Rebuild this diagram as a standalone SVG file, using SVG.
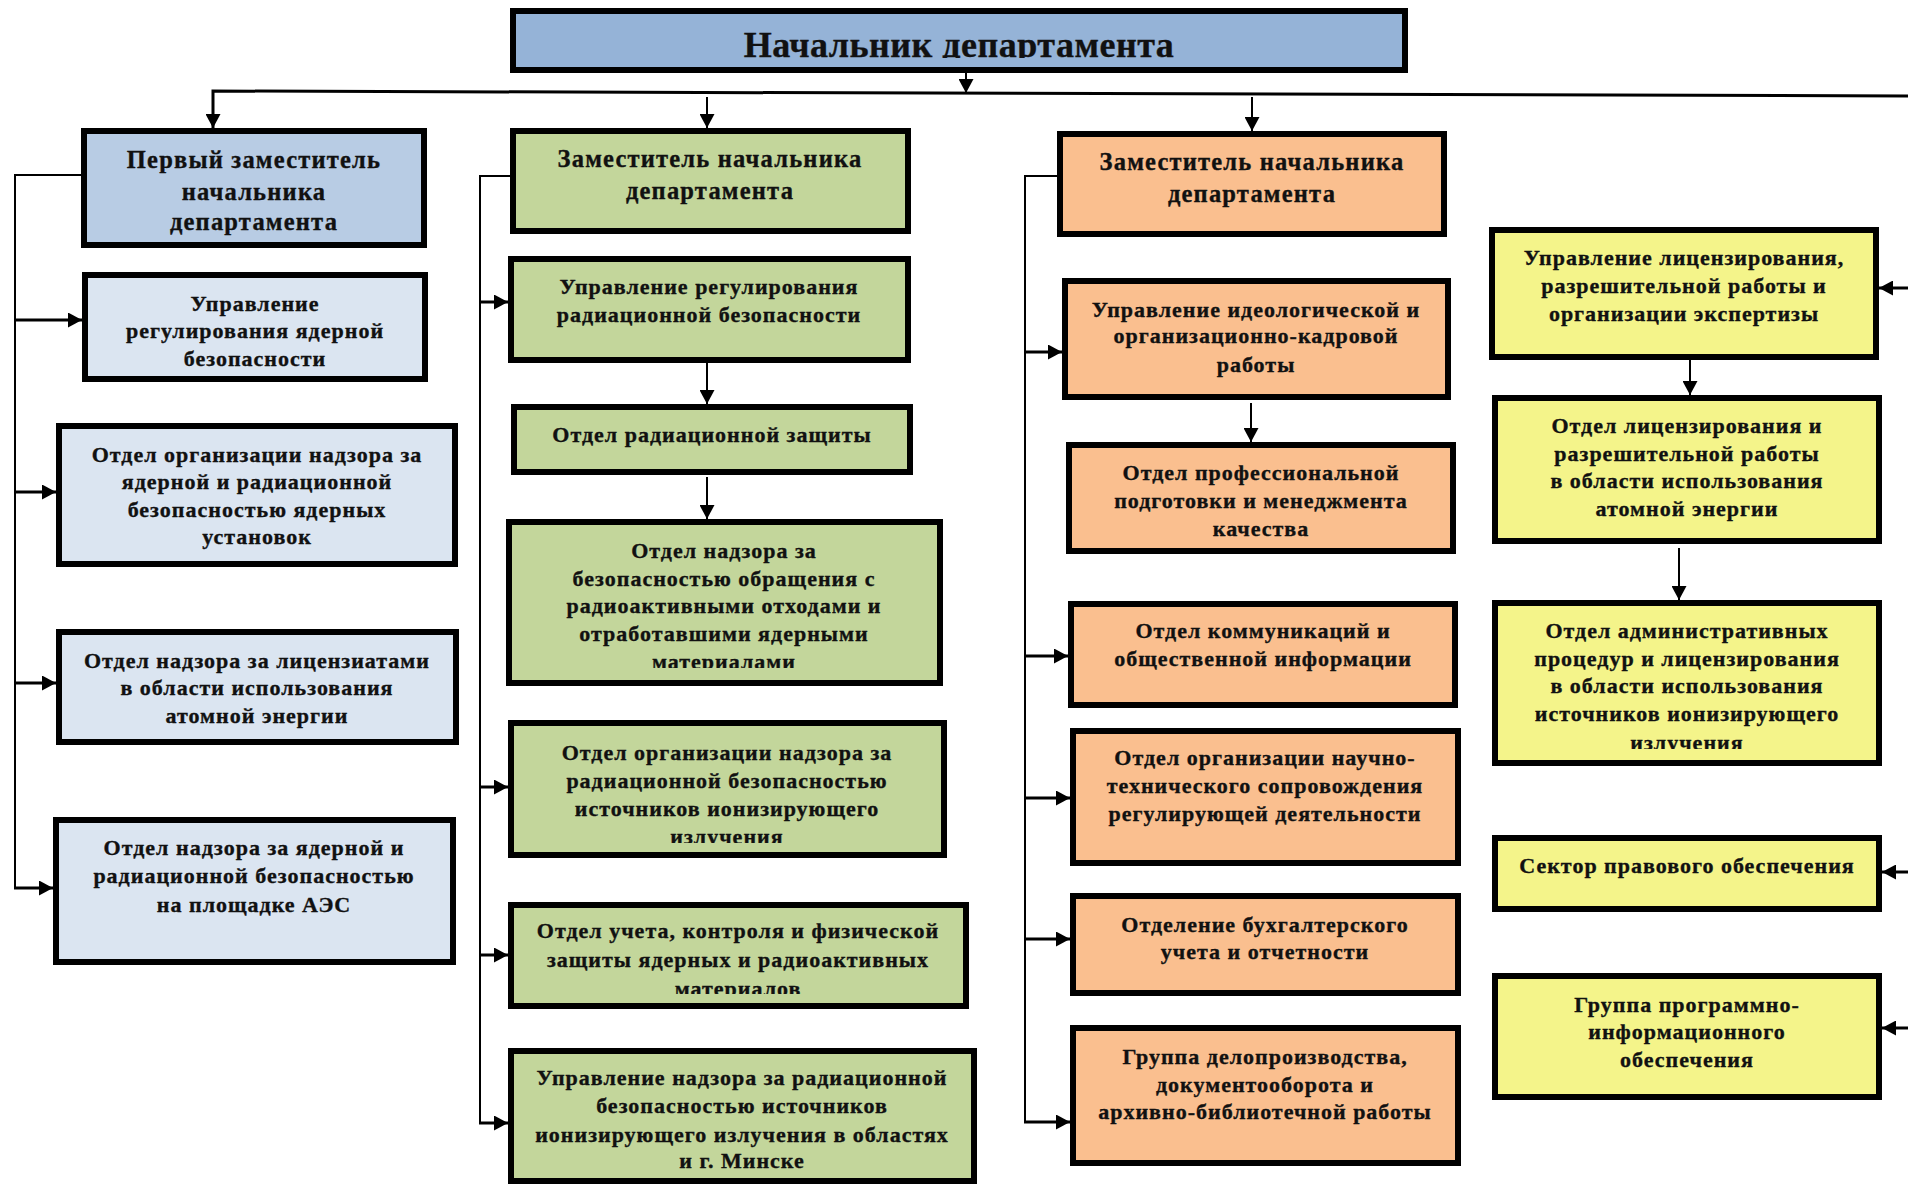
<svg xmlns="http://www.w3.org/2000/svg" width="1908" height="1184" viewBox="0 0 1908 1184">
<style>
.box{stroke:#000;stroke-width:6}
.top{fill:#95B3D7}
.b1{fill:#B8CCE4}
.b2{fill:#DBE5F1}
.g{fill:#C3D69B}
.o{fill:#FABF8F}
.y{fill:#F4F48A}
text{font-family:"Liberation Serif","Times New Roman",serif;font-weight:bold;font-size:22px;fill:#111;stroke:#111;stroke-width:0.35px;text-anchor:middle;letter-spacing:1px}
.title{font-size:36px;letter-spacing:0.5px}
.dep{font-size:24.5px;letter-spacing:1.2px}
.trunk{fill:none;stroke:#000;stroke-width:2}
.br{fill:none;stroke:#000;stroke-width:3;marker-end:url(#ah)}
.tr{fill:none;stroke:#000;stroke-width:2;marker-end:url(#ah)}
</style>
<defs>
<marker id="ah" markerUnits="userSpaceOnUse" markerWidth="14" markerHeight="15" refX="14" refY="7.5" orient="auto"><path d="M0,0 L14,7.5 L0,15 z" fill="#000"/></marker>
<clipPath id="cTitle"><rect x="513" y="11" width="892" height="47"/></clipPath>
<clipPath id="cRao"><rect x="509" y="522" width="431" height="146"/></clipPath>
<clipPath id="cIii"><rect x="511" y="723" width="433" height="120"/></clipPath>
<clipPath id="cUch"><rect x="511" y="905" width="455" height="89"/></clipPath>
<clipPath id="cAdm"><rect x="1495" y="603" width="384" height="146"/></clipPath>
</defs>
<rect width="1908" height="1184" fill="#fff"/>

<g id="connectors">
<path class="tr" d="M966,73 V93"/>
<path class="tr" d="M1908,96 L213,91 V128" style="stroke-width:3"/>
<path class="tr" d="M707,97 V128"/>
<path class="tr" d="M1252,97 V131"/>
<path class="trunk" d="M81,175 H15 V888"/>
<path class="br" d="M15,320 H82"/>
<path class="br" d="M15,492 H56"/>
<path class="br" d="M15,683 H56"/>
<path class="br" d="M14,888 H53"/>
<path class="trunk" d="M510,176 H480 V1123"/>
<path class="br" d="M480,302 H508"/>
<path class="br" d="M480,787 H508"/>
<path class="br" d="M480,955 H508"/>
<path class="br" d="M479,1123 H508"/>
<path class="tr" d="M707,363 V404"/>
<path class="tr" d="M707,477 V519"/>
<path class="trunk" d="M1057,176 H1025 V1122"/>
<path class="br" d="M1025,352 H1062"/>
<path class="br" d="M1025,656 H1068"/>
<path class="br" d="M1025,798 H1070"/>
<path class="br" d="M1025,939 H1070"/>
<path class="br" d="M1024,1122 H1070"/>
<path class="tr" d="M1251,403 V442"/>
<path class="br" d="M1908,288 H1879"/>
<path class="br" d="M1908,872 H1882"/>
<path class="br" d="M1908,1028 H1882"/>
<path class="tr" d="M1690,360 V395"/>
<path class="tr" d="M1679,548 V600"/>
</g>

<g id="head">
<rect class="box top" x="513" y="11" width="892" height="59"/>
<text class="title" x="959" y="57" clip-path="url(#cTitle)">Начальник департамента</text>
</g>

<g id="first-deputy">
<rect class="box b1" x="84" y="131" width="340" height="114"/>
<text class="dep"><tspan x="254" y="168">Первый заместитель</tspan><tspan x="254" y="200">начальника</tspan><tspan x="254" y="230">департамента</tspan></text>
</g>
<g id="upr-yad">
<rect class="box b2" x="85" y="275" width="340" height="104"/>
<text><tspan x="255" y="311">Управление</tspan><tspan x="255" y="338">регулирования ядерной</tspan><tspan x="255" y="366">безопасности</tspan></text>
</g>
<g id="otd-yau">
<rect class="box b2" x="59" y="426" width="396" height="138"/>
<text><tspan x="257" y="462">Отдел организации надзора за</tspan><tspan x="257" y="489">ядерной и радиационной</tspan><tspan x="257" y="517">безопасностью ядерных</tspan><tspan x="257" y="544">установок</tspan></text>
</g>
<g id="otd-lic">
<rect class="box b2" x="59" y="632" width="397" height="110"/>
<text><tspan x="257" y="668">Отдел надзора за лицензиатами</tspan><tspan x="257" y="695">в области использования</tspan><tspan x="257" y="723">атомной энергии</tspan></text>
</g>
<g id="otd-aes">
<rect class="box b2" x="56" y="820" width="397" height="142"/>
<text><tspan x="254" y="855">Отдел надзора за ядерной и</tspan><tspan x="254" y="883">радиационной безопасностью</tspan><tspan x="254" y="912">на площадке АЭС</tspan></text>
</g>

<g id="deputy-green">
<rect class="box g" x="513" y="131" width="395" height="100"/>
<text class="dep"><tspan x="710" y="167">Заместитель начальника</tspan><tspan x="710" y="199">департамента</tspan></text>
</g>
<g id="upr-rad">
<rect class="box g" x="511" y="259" width="397" height="101"/>
<text><tspan x="709" y="294">Управление регулирования</tspan><tspan x="709" y="322">радиационной безопасности</tspan></text>
</g>
<g id="otd-radzash">
<rect class="box g" x="514" y="407" width="396" height="65"/>
<text><tspan x="712" y="442">Отдел радиационной защиты</tspan></text>
</g>
<g id="otd-rao">
<rect class="box g" x="509" y="522" width="431" height="161"/>
<text clip-path="url(#cRao)"><tspan x="724" y="558">Отдел надзора за</tspan><tspan x="724" y="586">безопасностью обращения с</tspan><tspan x="724" y="613">радиоактивными отходами и</tspan><tspan x="724" y="641">отработавшими ядерными</tspan><tspan x="724" y="669">материалами</tspan></text>
</g>
<g id="otd-iii">
<rect class="box g" x="511" y="723" width="433" height="132"/>
<text clip-path="url(#cIii)"><tspan x="727" y="760">Отдел организации надзора за</tspan><tspan x="727" y="788">радиационной безопасностью</tspan><tspan x="727" y="816">источников ионизирующего</tspan><tspan x="727" y="844">излучения</tspan></text>
</g>
<g id="otd-uchet">
<rect class="box g" x="511" y="905" width="455" height="101"/>
<text clip-path="url(#cUch)"><tspan x="738" y="938">Отдел учета, контроля и физической</tspan><tspan x="738" y="967">защиты ядерных и радиоактивных</tspan><tspan x="738" y="996">материалов</tspan></text>
</g>
<g id="upr-obl">
<rect class="box g" x="511" y="1051" width="463" height="130"/>
<text><tspan x="742" y="1085">Управление надзора за радиационной</tspan><tspan x="742" y="1113">безопасностью источников</tspan><tspan x="742" y="1142">ионизирующего излучения в областях</tspan><tspan x="742" y="1168">и г. Минске</tspan></text>
</g>

<g id="deputy-orange">
<rect class="box o" x="1060" y="134" width="384" height="100"/>
<text class="dep"><tspan x="1252" y="170">Заместитель начальника</tspan><tspan x="1252" y="202">департамента</tspan></text>
</g>
<g id="upr-ideol">
<rect class="box o" x="1065" y="281" width="383" height="116"/>
<text><tspan x="1256" y="317">Управление идеологической и</tspan><tspan x="1256" y="343">организационно-кадровой</tspan><tspan x="1256" y="372">работы</tspan></text>
</g>
<g id="otd-prof">
<rect class="box o" x="1069" y="445" width="384" height="106"/>
<text><tspan x="1261" y="480">Отдел профессиональной</tspan><tspan x="1261" y="508">подготовки и менеджмента</tspan><tspan x="1261" y="536">качества</tspan></text>
</g>
<g id="otd-komm">
<rect class="box o" x="1071" y="604" width="384" height="101"/>
<text><tspan x="1263" y="638">Отдел коммуникаций и</tspan><tspan x="1263" y="666">общественной информации</tspan></text>
</g>
<g id="otd-nauch">
<rect class="box o" x="1073" y="731" width="385" height="132"/>
<text><tspan x="1265" y="765">Отдел организации научно-</tspan><tspan x="1265" y="793">технического сопровождения</tspan><tspan x="1265" y="821">регулирующей деятельности</tspan></text>
</g>
<g id="otd-buh">
<rect class="box o" x="1073" y="896" width="385" height="97"/>
<text><tspan x="1265" y="932">Отделение бухгалтерского</tspan><tspan x="1265" y="959">учета и отчетности</tspan></text>
</g>
<g id="gr-delo">
<rect class="box o" x="1073" y="1028" width="385" height="135"/>
<text><tspan x="1265" y="1064">Группа делопроизводства,</tspan><tspan x="1265" y="1092">документооборота и</tspan><tspan x="1265" y="1119">архивно-библиотечной работы</tspan></text>
</g>

<g id="upr-lic">
<rect class="box y" x="1492" y="230" width="384" height="127"/>
<text><tspan x="1684" y="265">Управление лицензирования,</tspan><tspan x="1684" y="293">разрешительной работы и</tspan><tspan x="1684" y="321">организации экспертизы</tspan></text>
</g>
<g id="otd-lic-aes">
<rect class="box y" x="1495" y="398" width="384" height="143"/>
<text><tspan x="1687" y="433">Отдел лицензирования и</tspan><tspan x="1687" y="461">разрешительной работы</tspan><tspan x="1687" y="488">в области использования</tspan><tspan x="1687" y="516">атомной энергии</tspan></text>
</g>
<g id="otd-adm">
<rect class="box y" x="1495" y="603" width="384" height="160"/>
<text clip-path="url(#cAdm)"><tspan x="1687" y="638">Отдел административных</tspan><tspan x="1687" y="666">процедур и лицензирования</tspan><tspan x="1687" y="693">в области использования</tspan><tspan x="1687" y="721">источников ионизирующего</tspan><tspan x="1687" y="750">излучения</tspan></text>
</g>
<g id="sektor">
<rect class="box y" x="1495" y="838" width="384" height="71"/>
<text><tspan x="1687" y="873">Сектор правового обеспечения</tspan></text>
</g>
<g id="gr-prog">
<rect class="box y" x="1495" y="976" width="384" height="121"/>
<text><tspan x="1687" y="1012">Группа программно-</tspan><tspan x="1687" y="1039">информационного</tspan><tspan x="1687" y="1067">обеспечения</tspan></text>
</g>
</svg>
